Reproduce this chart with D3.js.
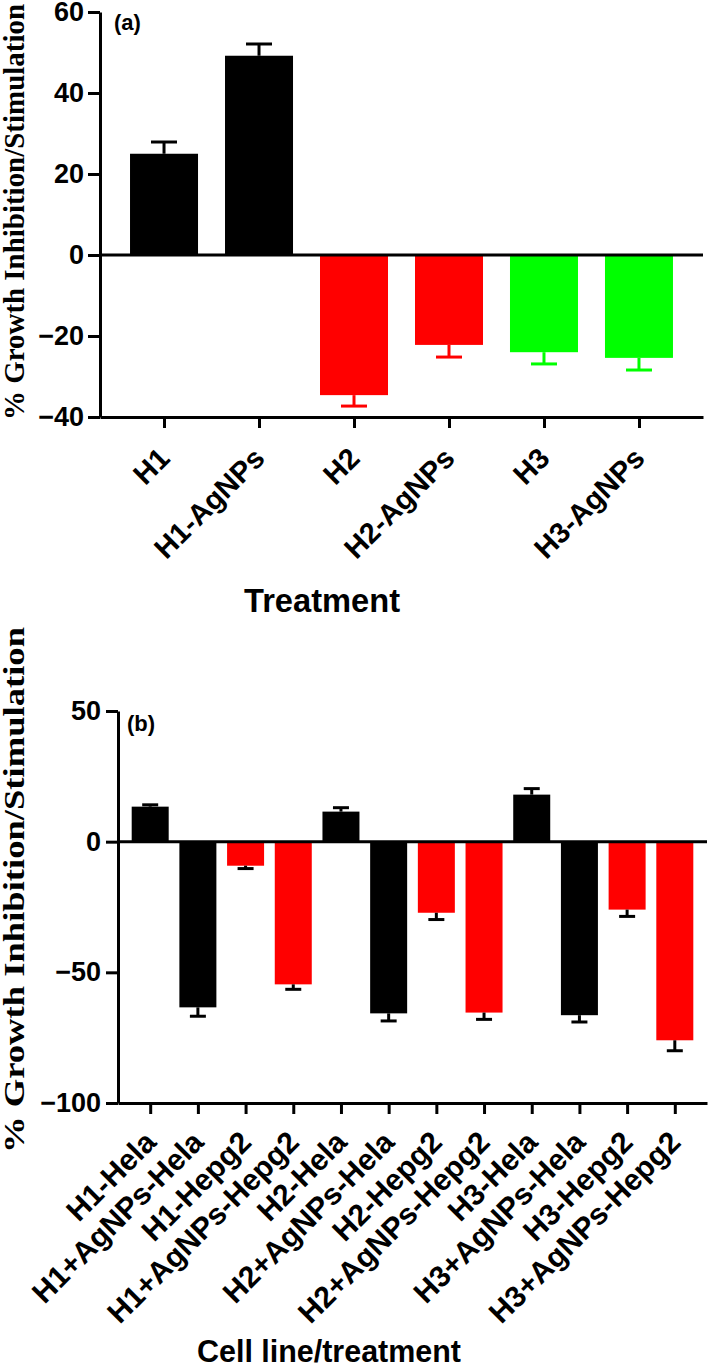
<!DOCTYPE html>
<html>
<head>
<meta charset="utf-8">
<script src="https://cdn.jsdelivr.net/npm/d3@7"></script>
<style>
  html, body { margin: 0; padding: 0; background: #fff; }
  svg { display: block; }
</style>
</head>
<body>
<svg id="chart" width="709" height="1365"></svg>
<script>
// ---------- Panel (a) data ----------
const catsA = ["H1", "H1-AgNPs", "H2", "H2-AgNPs", "H3", "H3-AgNPs"];
const valsA = [25.0, 49.2, -34.6, -22.2, -24.0, -25.4];
const errsA = [2.9, 2.9, 2.7, 3.0, 2.9, 3.0];
const colorsA = ["#000000", "#000000", "#ff0000", "#ff0000", "#00ff00", "#00ff00"];
const ticksA = [-40, -20, 0, 20, 40, 60];

// ---------- Panel (b) data ----------
const catsB = ["H1-Hela", "H1+AgNPs-Hela", "H1-Hepg2", "H1+AgNPs-Hepg2",
               "H2-Hela", "H2+AgNPs-Hela", "H2-Hepg2", "H2+AgNPs-Hepg2",
               "H3-Hela", "H3+AgNPs-Hela", "H3-Hepg2", "H3+AgNPs-Hepg2"];
const valsB = [13.4, -63.4, -9.2, -54.6, 11.5, -65.7, -27.2, -65.4, 18.0, -66.4, -26.0, -76.0];
const errsB = [0.7, 3.4, 1.1, 1.9, 1.5, 2.9, 2.6, 2.6, 2.3, 2.6, 2.6, 4.0];
const colorsB = ["#000000", "#000000", "#ff0000", "#ff0000",
                 "#000000", "#000000", "#ff0000", "#ff0000",
                 "#000000", "#000000", "#ff0000", "#ff0000"];
const ticksB = [-100, -50, 0, 50];

const yTitle = "% Growth Inhibition/Stimulation";

const svg = d3.select("#chart");
const sans = "'Liberation Sans', Arial, Helvetica, sans-serif";
const serif = "'Liberation Serif', 'Times New Roman', serif";

function panel(cfg) {
  const g = svg.append("g");
  const x = d3.scalePoint().domain(cfg.cats).range([cfg.x0, cfg.x1]).padding(cfg.pad);
  const y = d3.scaleLinear().domain(cfg.yDomain).range([cfg.yBottom, cfg.yTop]);
  const data = cfg.cats.map((c, i) => ({c, v: cfg.vals[i], e: cfg.errs[i], col: cfg.colors[i]}));

  // bars
  g.selectAll("rect.bar").data(data).enter().append("rect")
    .attr("class", "bar")
    .attr("x", d => x(d.c) - cfg.barW / 2)
    .attr("width", cfg.barW)
    .attr("y", d => y(Math.max(0, d.v)))
    .attr("height", d => Math.abs(y(d.v) - y(0)))
    .attr("fill", d => d.col);

  // error bars
  const eb = g.selectAll("g.err").data(data).enter().append("g").attr("class", "err");
  eb.append("line")
    .attr("x1", d => x(d.c)).attr("x2", d => x(d.c))
    .attr("y1", d => y(d.v)).attr("y2", d => y(d.v + Math.sign(d.v) * d.e))
    .attr("stroke", d => cfg.errColor || d.col).attr("stroke-width", 3);
  eb.append("line")
    .attr("x1", d => x(d.c) - cfg.capW / 2).attr("x2", d => x(d.c) + cfg.capW / 2)
    .attr("y1", d => y(d.v + Math.sign(d.v) * d.e)).attr("y2", d => y(d.v + Math.sign(d.v) * d.e))
    .attr("stroke", d => cfg.errColor || d.col).attr("stroke-width", 3);

  // zero line
  g.append("line")
    .attr("x1", cfg.x0).attr("x2", cfg.x1)
    .attr("y1", y(0)).attr("y2", y(0))
    .attr("stroke", "#000").attr("stroke-width", 3);

  // y axis
  const ya = g.append("g").attr("transform", `translate(${cfg.x0},0)`)
    .call(d3.axisLeft(y).tickValues(cfg.ticks).tickSize(12).tickSizeOuter(0).tickPadding(cfg.yPad));
  ya.select(".domain").attr("stroke-width", 3);
  ya.selectAll(".tick line").attr("stroke-width", 3);
  ya.selectAll(".tick text")
    .style("font-family", sans).style("font-weight", "bold").style("font-size", "27px")
    .attr("fill", "#000");

  // x axis
  const xa = g.append("g").attr("transform", `translate(0,${cfg.yBottom})`)
    .call(d3.axisBottom(x).tickSize(11).tickSizeOuter(0));
  xa.select(".domain").attr("stroke-width", 3);
  xa.selectAll(".tick line").attr("stroke-width", 3);
  xa.selectAll(".tick text")
    .attr("x", null).attr("y", null).attr("dy", null)
    .attr("transform", `translate(7,${cfg.labOff}) rotate(-45)`)
    .style("text-anchor", "end")
    .style("font-family", sans).style("font-weight", "bold").style("font-size", cfg.labSize + "px")
    .attr("fill", "#000");

  // panel letter
  g.append("text").attr("x", cfg.letterX).attr("y", cfg.letterY)
    .style("font-family", sans).style("font-weight", "bold").style("font-size", "22px")
    .text(cfg.letter);

  // x title
  g.append("text").attr("x", cfg.xtX).attr("y", cfg.xtY)
    .style("font-family", sans).style("font-weight", "bold").style("font-size", cfg.xtSize + "px")
    .attr("text-anchor", "start")
    .attr("textLength", cfg.xtLen).attr("lengthAdjust", "spacingAndGlyphs")
    .text(cfg.xTitle);

  // y title
  g.append("text")
    .attr("transform", `translate(${cfg.ytX},${cfg.ytY}) rotate(-90)`)
    .attr("text-anchor", "middle")
    .attr("textLength", cfg.ytLen).attr("lengthAdjust", "spacingAndGlyphs")
    .style("font-family", serif).style("font-weight", "bold").style("font-size", "29px")
    .text(yTitle);
}

panel({
  cats: catsA, vals: valsA, errs: errsA, colors: colorsA, ticks: ticksA,
  x0: 100, x1: 703, pad: 0.674, yDomain: [-40, 60], yBottom: 417, yTop: 12,
  barW: 68, capW: 26, yPad: 4, labOff: 43, labSize: 29,
  letter: "(a)", letterX: 114, letterY: 30,
  xTitle: "Treatment", xtX: 244, xtY: 612, xtSize: 33, xtLen: 156,
  ytX: 24, ytY: 212, ytLen: 416
});

panel({
  cats: catsB, vals: valsB, errs: errsB, colors: colorsB, ticks: ticksB,
  x0: 118, x1: 707, pad: 0.675, yDomain: [-100, 50], yBottom: 1103, yTop: 711,
  barW: 37, capW: 16, yPad: 5, labOff: 41, labSize: 30, errColor: "#000",
  letter: "(b)", letterX: 127, letterY: 731,
  xTitle: "Cell line/treatment", xtX: 197, xtY: 1362, xtSize: 31, xtLen: 264,
  ytX: 24, ytY: 890, ytLen: 526
});
</script>
</body>
</html>
